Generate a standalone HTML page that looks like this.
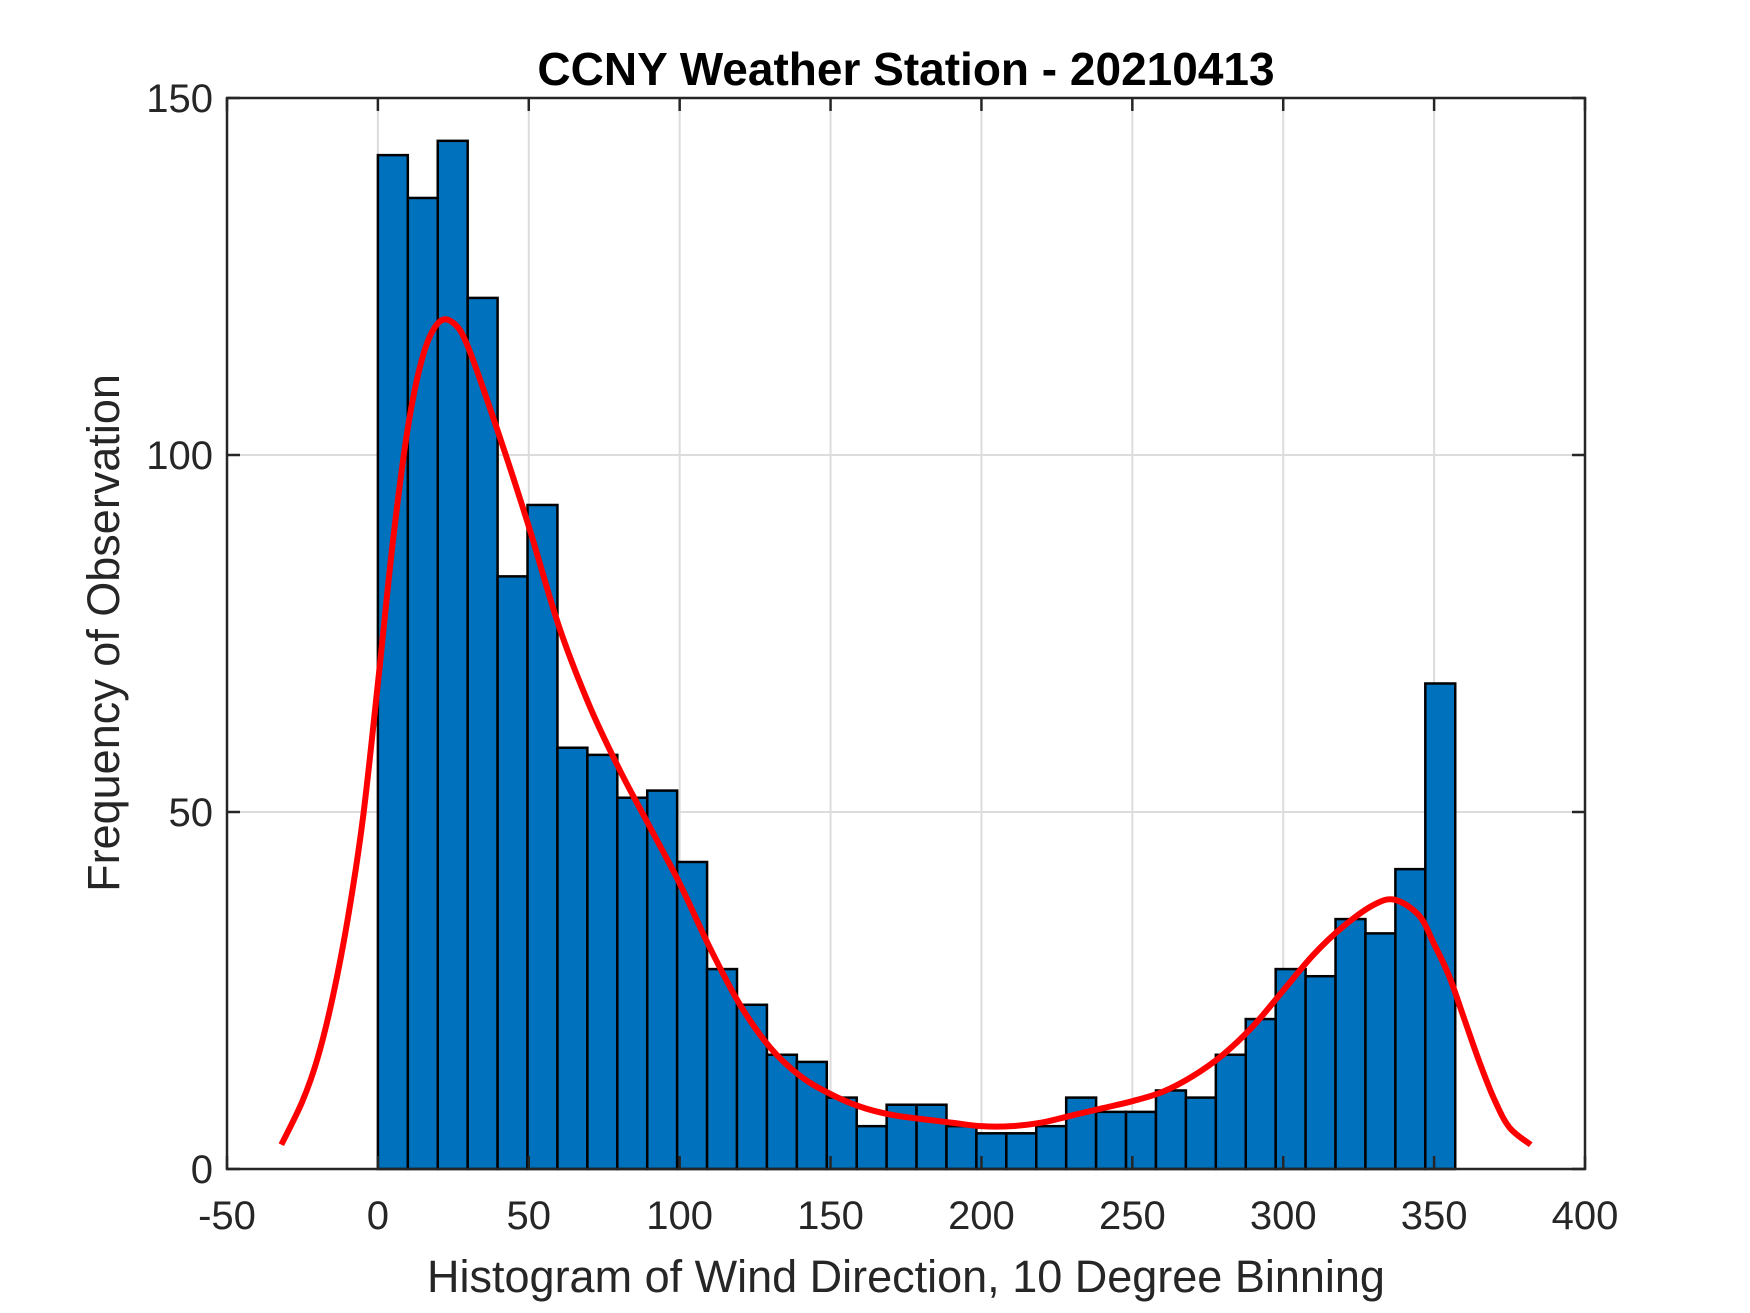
<!DOCTYPE html>
<html><head><meta charset="utf-8"><style>body{margin:0;background:#fff}svg{display:block}text{font-family:"Liberation Sans",Arial,sans-serif;fill:#262626}</style></head>
<body>
<svg id="chart" width="1750" height="1313" viewBox="0 0 1750 1313" xmlns="http://www.w3.org/2000/svg">
<rect width="1750" height="1313" fill="#fff"/>
<g id="grid"></g><g id="bars"></g><g id="curve"></g><g id="axes"></g>
<text x="906" y="85" text-anchor="middle" font-size="46" font-weight="bold" style="fill:#000">CCNY Weather Station - 20210413</text>
<text x="906" y="1292" text-anchor="middle" font-size="45">Histogram of Wind Direction, 10 Degree Binning</text>
<text transform="translate(119,633) rotate(-90)" text-anchor="middle" font-size="45">Frequency of Observation</text>
</svg>
<script>
const counts=[142,136,144,122,83,93,59,58,52,53,43,28,23,16,15,10,6,9,9,6,5,5,6,10,8,8,11,10,16,21,28,27,35,33,42,68];
const binStart=0, binEnd=357;
const kdeX=[-32,-25,-20,-15,-10,-5,0,5,10,15,20,25,30,40,50,60,70,80,90,100,110,120,130,140,150,160,170,180,190,200,210,220,230,240,250,260,270,280,290,300,310,320,330,337,345,350,355,360,365,370,375,382];
const kdeY=[3.4,9.5,15.5,24,35,49,68,88,104,114,118.5,118.5,115,103,90,76,65,56,48,40,31,23,17,13,10.5,8.7,7.6,7,6.5,6,6,6.5,7.5,8.5,9.5,10.8,13,16,20,25,30,34,37,37.7,35.5,31.5,27,21,15,9.7,5.8,3.4];
const xTicks=[-50,0,50,100,150,200,250,300,350,400];
const yTicks=[0,50,100,150];
const L=227,R=1585,T=98,B=1169,x0=-50,x1=400,y0=0,y1=150;
const sx=v=>L+(v-x0)/(x1-x0)*(R-L), sy=v=>B-(v-y0)/(y1-y0)*(B-T);
const NS="http://www.w3.org/2000/svg";
function mk(t,p,a){const e=document.createElementNS(NS,t);for(const k in a)e.setAttribute(k,a[k]);p.appendChild(e);return e;}
const grid=document.getElementById('grid'),bars=document.getElementById('bars'),curve=document.getElementById('curve'),axes=document.getElementById('axes');
xTicks.forEach(v=>{const l=mk('line',grid,{x1:sx(v),x2:sx(v),y1:T,y2:B,stroke:'#dcdcdc','stroke-width':2});

});
yTicks.forEach(v=>{const l=mk('line',grid,{x1:L,x2:R,y1:sy(v),y2:sy(v),stroke:'#dcdcdc','stroke-width':2});

});
const w=(binEnd-binStart)/counts.length;
counts.forEach((c,i)=>{const a=sx(binStart+i*w),b=sx(binStart+(i+1)*w);
const r=mk('rect',bars,{x:a,y:sy(c),width:b-a,height:sy(0)-sy(c),fill:'#0072bd',stroke:'#000','stroke-width':2.5});

});
const pts=kdeX.map((x,i)=>[sx(x),sy(kdeY[i])]);
let d='M'+pts[0][0]+','+pts[0][1];
for(let i=0;i<pts.length-1;i++){const p0=pts[Math.max(0,i-1)],p1=pts[i],p2=pts[i+1],p3=pts[Math.min(pts.length-1,i+2)];
d+=' C'+(p1[0]+(p2[0]-p0[0])/6)+','+(p1[1]+(p2[1]-p0[1])/6)+' '+(p2[0]-(p3[0]-p1[0])/6)+','+(p2[1]-(p3[1]-p1[1])/6)+' '+p2[0]+','+p2[1];}
const p=mk('path',curve,{d:d,fill:'none',stroke:'#ff0000','stroke-width':6,'stroke-linejoin':'round'});


const box=mk('rect',axes,{x:L,y:T,width:R-L,height:B-T,fill:'none',stroke:'#262626','stroke-width':2.5});


xTicks.forEach(v=>{mk('line',axes,{x1:sx(v),x2:sx(v),y1:B,y2:B-13,stroke:'#262626','stroke-width':2.5});
mk('line',axes,{x1:sx(v),x2:sx(v),y1:T,y2:T+13,stroke:'#262626','stroke-width':2.5});
const t=mk('text',axes,{x:sx(v),y:1229,'text-anchor':'middle','font-size':40});t.textContent=v;

});
yTicks.forEach(v=>{mk('line',axes,{x1:L,x2:L+13,y1:sy(v),y2:sy(v),stroke:'#262626','stroke-width':2.5});
mk('line',axes,{x1:R,x2:R-13,y1:sy(v),y2:sy(v),stroke:'#262626','stroke-width':2.5});
const t=mk('text',axes,{x:213,y:sy(v)+14,'text-anchor':'end','font-size':40});t.textContent=v;

});
</script>
</body></html>
